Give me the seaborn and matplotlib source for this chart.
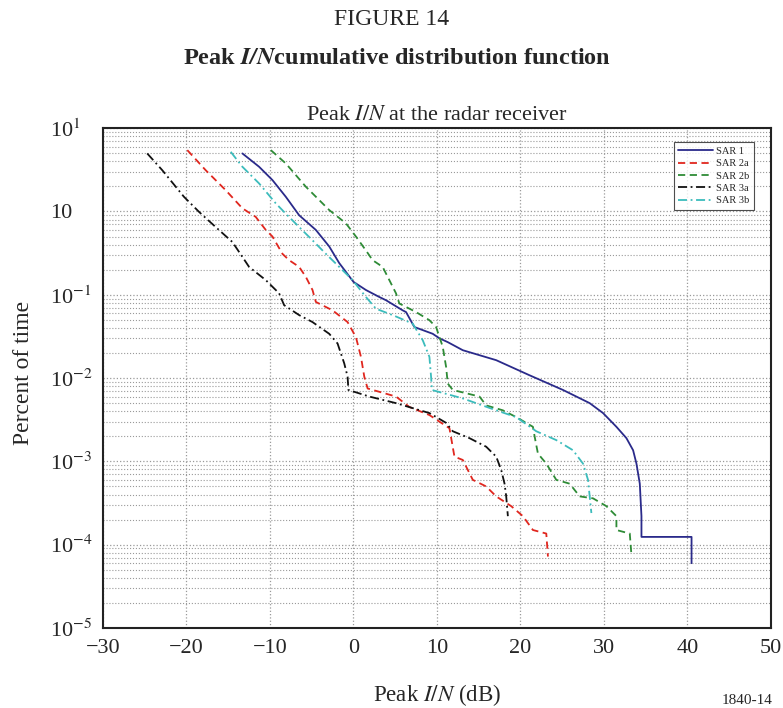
import pandas as pd
import seaborn as sns
import matplotlib.pyplot as plt
from matplotlib.ticker import FixedLocator, LogLocator, NullFormatter

# values (x in dB, y in percent of time)
sar1_x = [-13.3, -11.3, -9.7, -8.1, -6.5, -4.5, -2.9, -1.7, 0.0, 1.5, 3.1, 3.9, 5.9, 6.3, 7.3, 9.5, 10.3,
          11.3, 13.1, 17.1, 21.1, 25.1, 28.3, 29.9, 31.5, 32.7, 33.5, 33.9, 34.3, 34.5, 34.5, 40.5, 40.5]
sar1_y = [4.97, 3.44, 2.38, 1.50, 0.90, 0.60, 0.38, 0.24, 0.143, 0.114, 0.094, 0.086, 0.065, 0.062, 0.041,
          0.034, 0.030, 0.027, 0.0216, 0.0164, 0.0108, 0.0072, 0.005, 0.0038, 0.0026, 0.0019, 0.00136,
          0.00094, 0.00054, 0.00022, 0.000124, 0.000124, 0.00006]

sar2a_x = [-19.9, -17.7, -15.3, -13.3, -11.7, -10.5, -9.7, -8.5, -7.7, -6.5, -5.7, -4.9, -4.5, -2.5, -0.7,
           0.3, 0.9, 1.3, 1.7, 5.1, 6.7, 9.1, 11.5, 12.1, 13.1, 14.3, 15.9, 17.1, 18.9, 20.3, 21.5, 23.1, 23.3]
sar2a_y = [5.45, 3.13, 1.80, 1.09, 0.86, 0.60, 0.50, 0.31, 0.26, 0.216, 0.164, 0.114, 0.082, 0.065, 0.047,
           0.031, 0.018, 0.0104, 0.0075, 0.006, 0.0045, 0.0036, 0.0025, 0.00114, 0.00104, 0.0006, 0.0005,
           0.00038, 0.00029, 0.00022, 0.00015, 0.000136, 0.000072]

sar2b_x = [-9.9, -8.1, -5.7, -2.9, -0.9, 0.3, 1.5, 2.3, 3.5, 4.3, 5.1, 5.5, 7.5, 9.1, 9.9, 10.7, 11.1, 11.3,
           11.9, 15.1, 15.9, 17.9, 19.5, 21.5, 21.7, 22.1, 23.1, 24.3, 25.9, 27.1, 28.7, 30.3, 31.5, 31.5,
           33.1, 33.3]
sar2b_y = [5.45, 3.77, 1.98, 1.04, 0.72, 0.50, 0.34, 0.26, 0.216, 0.15, 0.104, 0.0785, 0.062, 0.0495, 0.041,
           0.0237, 0.0136, 0.0086, 0.0072, 0.006, 0.0047, 0.0041, 0.0034, 0.0026, 0.002, 0.00124, 0.00094,
           0.0006, 0.00054, 0.00038, 0.00036, 0.00029, 0.00022, 0.00015, 0.000136, 0.000075]

sar3a_x = [-24.7, -22.9, -20.3, -18.5, -16.5, -14.5, -13.3, -12.5, -10.5, -8.9, -8.3, -6.5, -4.9, -2.9, -1.9,
           -1.1, -0.7, -0.6, 1.9, 5.1, 9.1, 11.1, 11.9, 13.9, 15.9, 17.1, 17.7, 18.1, 18.3, 18.5]
sar3a_y = [4.97, 3.13, 1.50, 0.99, 0.65, 0.43, 0.285, 0.216, 0.15, 0.104, 0.075, 0.057, 0.047, 0.034, 0.026,
           0.015, 0.0104, 0.0072, 0.006, 0.005, 0.0038, 0.0029, 0.0023, 0.0019, 0.0015, 0.00114, 0.00079,
           0.00054, 0.00038, 0.00022]

sar3b_x = [-14.7, -13.3, -11.3, -9.3, -8.1, -6.5, -4.9, -3.3, -1.7, -0.1, 1.5, 2.7, 4.7, 7.1, 8.3, 9.1, 9.3,
           9.4, 13.1, 17.1, 19.5, 21.9, 24.3, 26.3, 27.5, 28.1, 28.3, 28.5]
sar3b_y = [5.2, 3.44, 2.17, 1.25, 0.94, 0.65, 0.45, 0.31, 0.216, 0.15, 0.094, 0.068, 0.057, 0.045, 0.0285,
           0.018, 0.0104, 0.0072, 0.0057, 0.0041, 0.0034, 0.0023, 0.0018, 0.00136, 0.00094, 0.0006, 0.00038,
           0.00024]

x_ticks = [-30, -20, -10, 0, 10, 20, 30, 40, 50]
y_ticks = [1e1, 1e0, 1e-1, 1e-2, 1e-3, 1e-4, 1e-5]
y_tick_labels = ['10$^1$', '10', '10$^{-1}$', '10$^{-2}$', '10$^{-3}$', '10$^{-4}$', '10$^{-5}$']

sns.set_style('white')
plt.rcParams['font.family'] = ['Liberation Serif', 'DejaVu Serif']
plt.rcParams['mathtext.fontset'] = 'stix'

fig = plt.figure(figsize=(7.83, 7.08), dpi=100)
ax = fig.add_axes([0.1315, 0.113, 0.853, 0.706])

series = [
    ('SAR 1', sar1_x, sar1_y, '#2a2a8a', '-'),
    ('SAR 2a', sar2a_x, sar2a_y, '#e0261e', (0, (4, 2.5))),
    ('SAR 2b', sar2b_x, sar2b_y, '#2e8b36', (0, (4, 2.5))),
    ('SAR 3a', sar3a_x, sar3a_y, '#111111', (0, (5, 2, 1, 2))),
    ('SAR 3b', sar3b_x, sar3b_y, '#3cbcbc', (0, (5, 2, 1, 2))),
]
for name, xs, ys, col, ls in series:
    df = pd.DataFrame({'x': xs, 'y': ys})
    sns.lineplot(data=df, x='x', y='y', ax=ax, sort=False, estimator=None,
                 color=col, linestyle=ls, linewidth=1.3, label=name)

ax.set_yscale('log')
ax.set_xlim(-30, 50)
ax.set_ylim(1e-5, 1e1)
ax.set_xticks(x_ticks)
ax.set_xticklabels([f'{t}'.replace('-', '\u2212') for t in x_ticks])
ax.yaxis.set_major_locator(FixedLocator(y_ticks))
ax.set_yticklabels(y_tick_labels)
ax.yaxis.set_minor_locator(LogLocator(base=10, subs=range(2, 10)))
ax.yaxis.set_minor_formatter(NullFormatter())
ax.tick_params(axis='both', which='both', length=0, labelsize=16)
ax.tick_params(axis='x', pad=8)
ax.tick_params(axis='y', pad=38)
for lbl in ax.get_yticklabels():
    lbl.set_horizontalalignment('left')

ax.grid(True, which='major', axis='both', color='#9a9a9a', linestyle=':', linewidth=0.9)
ax.grid(True, which='minor', axis='y', color='#9a9a9a', linestyle=':', linewidth=0.8)
for s in ax.spines.values():
    s.set_color('#222222')
    s.set_linewidth(1.5)

ax.set_title('Peak $\\mathit{I/N}$ at the radar receiver', fontsize=16, pad=6)
ax.set_xlabel('Peak $\\mathit{I/N}$ (dB)', fontsize=16.5)
ax.xaxis.set_label_coords(0.5, -0.108)
ax.set_ylabel('Percent of time', fontsize=17)
ax.yaxis.set_label_coords(-0.104, 0.51)

leg = ax.legend(loc='upper right', fontsize=7.5, frameon=True, fancybox=False,
                handlelength=3.4, borderpad=0.4, labelspacing=0.3, handletextpad=0.3,
                bbox_to_anchor=(0.982, 0.982))
leg.get_frame().set_edgecolor('#222222')
leg.get_frame().set_linewidth(0.8)

fig.text(0.5, 0.973, 'FIGURE 14', ha='center', va='center', fontsize=17)
fig.text(0.507, 0.918, 'Peak $\\mathbfit{I/N}$cumulative distribution function', ha='center', va='center',
         fontsize=17.5, fontweight='bold')
fig.text(0.922, 0.001, '1840-14', ha='left', va='bottom', fontsize=11)

fig.savefig('out.png', dpi=100)
